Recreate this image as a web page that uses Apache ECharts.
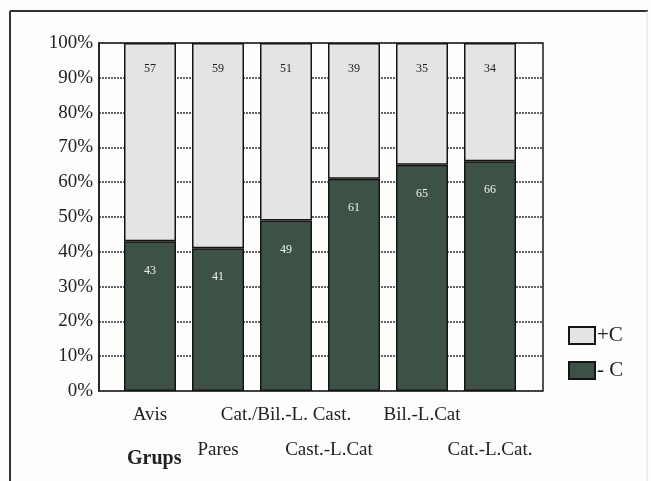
<!DOCTYPE html>
<html>
<head>
<meta charset="utf-8">
<script src="https://cdn.jsdelivr.net/npm/echarts@6/dist/echarts.min.js"></script>
<style>
  html, body { margin: 0; padding: 0; background: #fdfdfc; }
  #chart { width: 651px; height: 481px; }
</style>
</head>
<body>
<div id="chart"></div>
<script>
// Groups on the x axis
const categories = ['Avis', 'Pares', 'Cat./Bil.-L. Cast.', 'Cast.-L.Cat', 'Bil.-L.Cat', 'Cat.-L.Cat.'];
// Percentages per group
const lessC = [43, 41, 49, 61, 65, 66];
const moreC = [57, 59, 51, 39, 35, 34];
const seriesNames = ['+C', '- C'];
const yTicks = [0, 10, 20, 30, 40, 50, 60, 70, 80, 90, 100];

const FONT = '"Liberation Serif", "DejaVu Serif", serif';
const DARK = '#3e5146';
const LIGHT = '#e4e5e2';

const chart = echarts.init(document.getElementById('chart'), null, { renderer: 'canvas' });

chart.setOption({
  backgroundColor: '#fdfdfc',
  animation: false,
  graphic: [
    { type: 'line', shape: { x1: 10, y1: 11, x2: 648, y2: 11 }, style: { stroke: '#333', lineWidth: 2 } },
    { type: 'line', shape: { x1: 10, y1: 11, x2: 10, y2: 481 }, style: { stroke: '#333', lineWidth: 2 } },
    { type: 'line', shape: { x1: 647, y1: 11, x2: 647, y2: 481 }, style: { stroke: '#ddd', lineWidth: 1 } },
    { type: 'text', left: 127, top: 449, style: { text: 'Grups', font: 'bold 20px ' + FONT, fill: '#222' } }
  ],
  legend: {
    data: seriesNames,
    orient: 'vertical',
    left: 563,
    top: 320,
    icon: 'rect',
    itemWidth: 26,
    itemHeight: 17,
    itemGap: 14,
    textStyle: { fontFamily: FONT, fontSize: 21, color: '#222', padding: [0, 0, 0, -3] }
  },
  grid: [
    { left: 116, top: 43, width: 408, height: 348 },
    { left: 99, top: 43, width: 444, height: 348, show: true, borderColor: '#1a1a1a', borderWidth: 1.5, backgroundColor: 'transparent' }
  ],
  xAxis: [
    {
      type: 'category',
      gridIndex: 0,
      data: categories,
      axisLine: { show: false },
      axisTick: { show: false },
      axisLabel: {
        interval: 0,
        margin: 15,
        color: '#222',
        fontFamily: FONT,
        fontSize: 19,
        formatter: (v, i) => {
          if (i === 3) return '{c|' + v + '}';
          return (i % 2 === 0 ? '{a|' : '{b|') + v + '}';
        },
        rich: {
          a: { fontFamily: FONT, fontSize: 19, color: '#222' },
          b: { fontFamily: FONT, fontSize: 19, color: '#222', padding: [35, 0, 0, 0] },
          c: { fontFamily: FONT, fontSize: 19, color: '#222', padding: [35, 50, 0, 0] }
        }
      }
    },
    {
      type: 'category',
      gridIndex: 1,
      data: categories,
      show: false
    }
  ],
  yAxis: [
    { type: 'value', gridIndex: 0, min: 0, max: 100, interval: 10, show: false },
    {
      type: 'value',
      gridIndex: 1,
      min: 0,
      max: 100,
      interval: 10,
      axisLine: { show: true, lineStyle: { color: '#1a1a1a', width: 1.5 } },
      axisTick: { show: false },
      axisLabel: {
        margin: 6,
        color: '#222',
        fontFamily: FONT,
        fontSize: 19,
        formatter: v => yTicks.includes(v) ? v + '%' : ''
      },
      splitLine: { show: true, lineStyle: { color: '#333', width: 1.5, type: [2, 1] } }
    }
  ],
  series: [
    {
      name: '- C',
      type: 'bar',
      stack: 'total',
      xAxisIndex: 0,
      yAxisIndex: 0,
      barWidth: 52,
      data: lessC,
      itemStyle: { color: DARK, borderColor: '#151515', borderWidth: 1.5 },
      label: {
        show: true,
        position: 'insideTop',
        distance: 23,
        color: '#f2f2f2',
        fontFamily: FONT,
        fontSize: 12
      }
    },
    {
      name: '+C',
      type: 'bar',
      stack: 'total',
      xAxisIndex: 0,
      yAxisIndex: 0,
      barWidth: 52,
      data: moreC,
      itemStyle: { color: LIGHT, borderColor: '#151515', borderWidth: 1.5 },
      label: {
        show: true,
        position: 'insideTop',
        distance: 20,
        color: '#222',
        fontFamily: FONT,
        fontSize: 12
      }
    }
  ]
});
</script>
</body>
</html>
